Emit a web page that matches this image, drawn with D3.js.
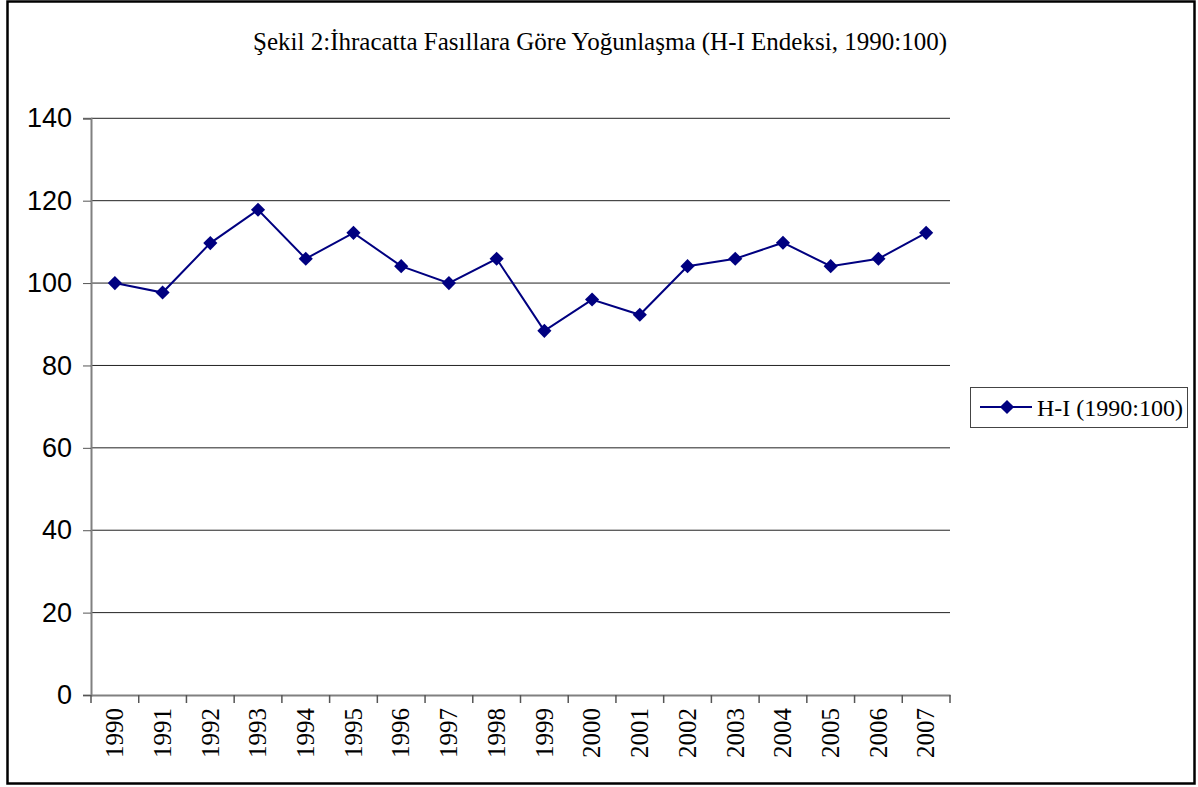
<!DOCTYPE html>
<html><head><meta charset="utf-8">
<script src="https://cdn.jsdelivr.net/npm/d3@7"></script>
<style>body{margin:0;background:#fff}svg{display:block}</style>
</head><body>
<svg id="c" width="1198" height="787"></svg>
<script>
const years = ["1990","1991","1992","1993","1994","1995","1996","1997","1998","1999","2000","2001","2002","2003","2004","2005","2006","2007"];
const hiValues = [100, 97.7, 109.7, 117.8, 105.9, 112.2, 104.1, 100, 105.9, 88.4, 96.0, 92.3, 104.1, 105.9, 109.8, 104.1, 105.9, 112.2];
const yTicks = [0, 20, 40, 60, 80, 100, 120, 140];
const titleText = "Şekil 2:İhracatta Fasıllara Göre Yoğunlaşma (H-I Endeksi, 1990:100)";
const seriesName = "H-I (1990:100)";

const svg = d3.select("#c");
const L = 91, R = 950, T = 118.3, B = 695;
const navy = "#000080";
const serif = "'Liberation Serif', 'Times New Roman', serif";
const sans = "'Liberation Sans', Arial, sans-serif";

svg.append("rect").attr("x", 7.5).attr("y", 1.5).attr("width", 1187).attr("height", 782)
  .attr("fill", "#fff").attr("stroke", "#000").attr("stroke-width", 2.5);

svg.append("text").attr("x", 600).attr("y", 50).attr("text-anchor", "middle")
  .style("font-family", serif).style("font-size", "26px")
  .attr("textLength", 694).attr("lengthAdjust", "spacingAndGlyphs")
  .text(titleText);

const x = d3.scaleBand().domain(years).range([L, R]);
const y = d3.scaleLinear().domain([0, 140]).range([B, T]);

// gridlines
svg.append("g").selectAll("line").data(yTicks.filter(d => d > 0)).join("line")
  .attr("x1", L).attr("x2", R).attr("y1", d => y(d)).attr("y2", d => y(d))
  .attr("stroke", "#222").attr("stroke-width", 1);

// y axis
const yAxis = svg.append("g").attr("transform", `translate(${L},0)`)
  .call(d3.axisLeft(y).tickValues(yTicks).tickSize(8).tickPadding(11).tickFormat(d3.format("d")));
yAxis.select(".domain").attr("stroke", "#808080").attr("stroke-width", 2);
yAxis.selectAll(".tick line").attr("stroke", "#555");
yAxis.selectAll("text").style("font-family", sans).style("font-size", "27px").attr("fill", "#000");

// x axis
const xAxis = svg.append("g").attr("transform", `translate(0,${B})`)
  .call(d3.axisBottom(x).tickSize(0).tickSizeOuter(0));
xAxis.select(".domain").attr("stroke", "#808080").attr("stroke-width", 2);
xAxis.selectAll(".tick line").remove();
xAxis.selectAll("text")
  .style("font-family", serif).style("font-size", "25px").attr("fill", "#000")
  .attr("transform", "rotate(-90)").attr("text-anchor", "end")
  .attr("x", -13).attr("y", 0).attr("dy", "0.33em");
// category boundary ticks
svg.append("g").selectAll("line").data(years.concat(["end"])).join("line")
  .attr("x1", (d, i) => i < years.length ? x(d) : R)
  .attr("x2", (d, i) => i < years.length ? x(d) : R)
  .attr("y1", B).attr("y2", B + 8)
  .attr("stroke", "#555").attr("stroke-width", 1.5);

// line
const line = d3.line().x((d, i) => x(years[i]) + x.bandwidth() / 2).y(d => y(d));
svg.append("path").datum(hiValues).attr("d", line)
  .attr("fill", "none").attr("stroke", navy).attr("stroke-width", 2);

const diamond = d3.symbol().type(d3.symbolSquare).size(100);
svg.append("g").selectAll("path").data(hiValues).join("path")
  .attr("d", diamond)
  .attr("transform", (d, i) => `translate(${x(years[i]) + x.bandwidth() / 2},${y(d)}) rotate(45)`)
  .attr("fill", navy);

// legend
const lg = svg.append("g");
lg.append("rect").attr("x", 970.5).attr("y", 387.5).attr("width", 217).attr("height", 40)
  .attr("fill", "#fff").attr("stroke", "#444").attr("stroke-width", 1);
lg.append("line").attr("x1", 980).attr("x2", 1032).attr("y1", 407).attr("y2", 407)
  .attr("stroke", navy).attr("stroke-width", 2);
lg.append("path").attr("d", diamond).attr("transform", "translate(1007,407) rotate(45)").attr("fill", navy);
lg.append("text").attr("x", 1037).attr("y", 416)
  .style("font-family", serif).style("font-size", "24px")
  .text(seriesName);
</script>
</body></html>
